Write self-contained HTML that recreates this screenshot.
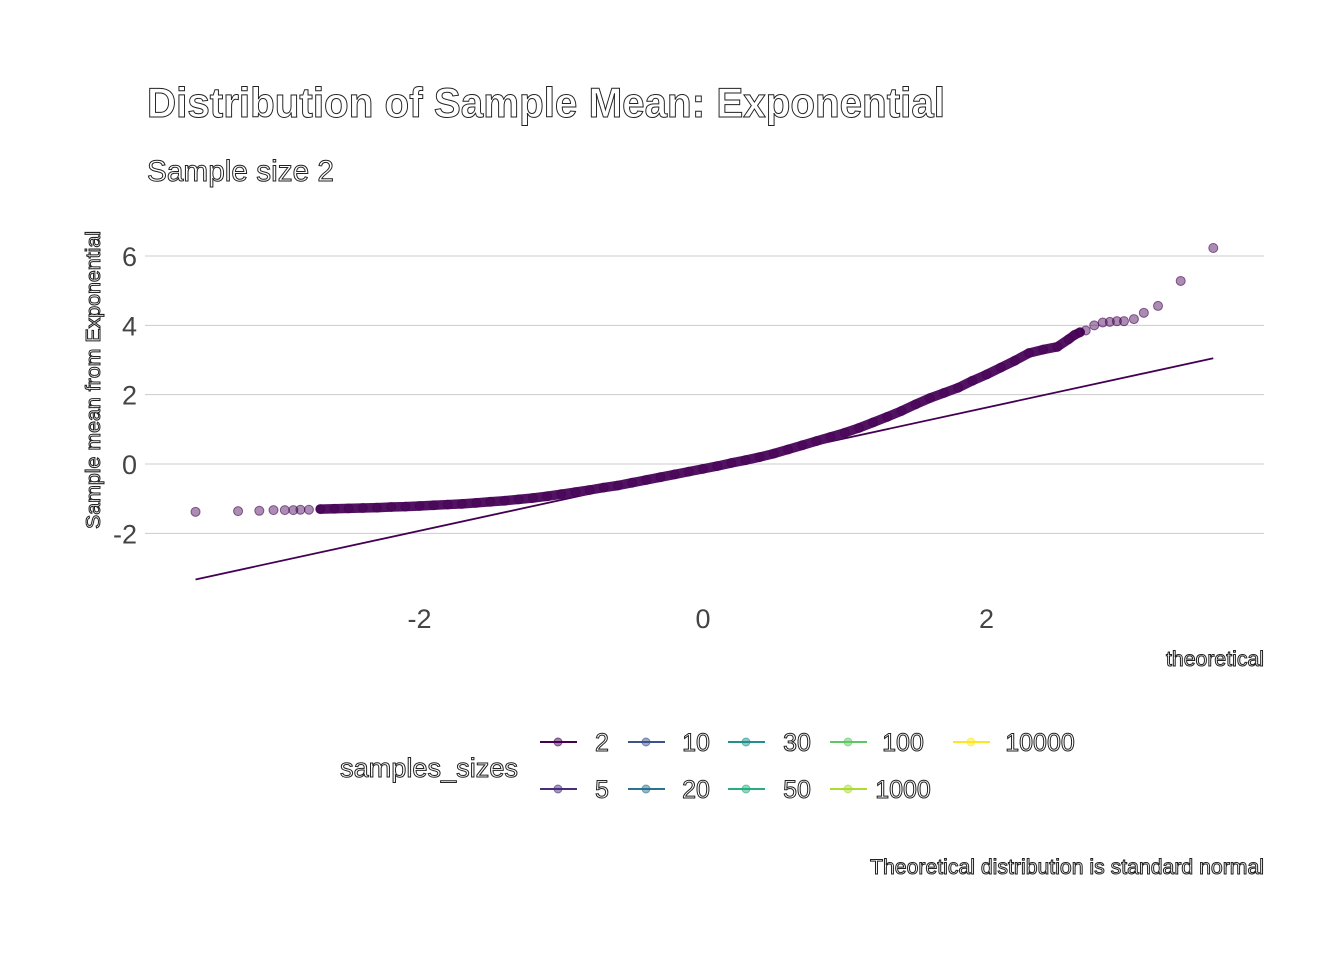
<!DOCTYPE html>
<html><head><meta charset="utf-8"><style>
body{margin:0;background:#fff}
svg{display:block}
.ol{fill:#fff;stroke:#222;stroke-width:1px;font-family:"Liberation Sans Narrow","Liberation Sans",sans-serif}
.tk{fill:#444;font-family:"Liberation Sans Narrow","Liberation Sans",sans-serif;font-size:27px}
</style></head><body>
<svg id="chart" width="1344" height="960">
<text class="ol" x="147" y="117" font-size="42" font-weight="bold" textLength="798" lengthAdjust="spacingAndGlyphs">Distribution of Sample Mean: Exponential</text>
<text class="ol" x="147" y="181" font-size="30" textLength="187" lengthAdjust="spacingAndGlyphs">Sample size 2</text>
<g id="grid"></g>
<g id="ticks"></g>
<g id="marks"></g>
<text class="ol" transform="translate(100,380) rotate(-90)" text-anchor="middle" font-size="20" textLength="298" lengthAdjust="spacingAndGlyphs">Sample mean from Exponential</text>
<text class="ol" x="1264" y="666" text-anchor="end" font-size="21" textLength="98" lengthAdjust="spacingAndGlyphs">theoretical</text>
<text class="ol" x="429" y="777" text-anchor="middle" font-size="27" textLength="178" lengthAdjust="spacingAndGlyphs">samples_sizes</text>
<g id="legend"></g>
<text class="ol" x="1264" y="874" text-anchor="end" font-size="21" textLength="394" lengthAdjust="spacingAndGlyphs">Theoretical distribution is standard normal</text>
</svg>
<script>
const theoretical=[-3.58,-3.28,-3.13,-3.03,-2.95,-2.89,-2.84,-2.78,-2.7,-2.6,-2.5,-2.4,-2.3,-2.2,-2.1,-2.0,-1.9,-1.8,-1.7,-1.6,-1.5,-1.4,-1.3,-1.2,-1.1,-1.0,-0.9,-0.8,-0.7,-0.6,-0.5,-0.4,-0.3,-0.2,-0.1,0,0.1,0.2,0.3,0.4,0.5,0.6,0.7,0.8,0.9,1.0,1.1,1.2,1.3,1.4,1.5,1.6,1.7,1.8,1.9,2.0,2.1,2.2,2.3,2.4,2.5,2.58,2.62,2.66,2.7,2.76,2.82,2.87,2.92,2.97,3.04,3.11,3.21,3.37,3.6];
const sampleMean=[-1.38,-1.36,-1.35,-1.33,-1.33,-1.33,-1.32,-1.32,-1.30,-1.29,-1.28,-1.27,-1.26,-1.24,-1.23,-1.21,-1.19,-1.17,-1.15,-1.12,-1.09,-1.06,-1.02,-0.98,-0.93,-0.87,-0.81,-0.75,-0.68,-0.62,-0.54,-0.46,-0.38,-0.30,-0.22,-0.14,-0.06,0.03,0.11,0.2,0.3,0.42,0.54,0.66,0.78,0.9,1.04,1.2,1.36,1.53,1.72,1.9,2.05,2.2,2.4,2.58,2.78,2.98,3.2,3.3,3.38,3.6,3.72,3.8,3.85,4.0,4.08,4.1,4.12,4.12,4.18,4.36,4.56,5.28,6.23];
const refLineX=[-3.58,3.6];
const refLineY=[-3.33,3.05];
const xTicks=[-2,0,2];
const yTicks=[-2,0,2,4,6];
const legendLabels=["2","5","10","20","30","50","100","1000","10000"];
const legendColors=["#440154","#472D7B","#3B528B","#2C728E","#21908C","#27AD81","#5DC863","#AADC32","#FDE725"];
const NS="http://www.w3.org/2000/svg";
const sx=v=>703+v*141.75, sy=v=>464-v*34.67;
function mk(t,a,p){const e=document.createElementNS(NS,t);for(const k in a)e.setAttribute(k,a[k]);p.appendChild(e);return e;}
const grid=document.getElementById('grid'),ticks=document.getElementById('ticks'),marks=document.getElementById('marks'),leg=document.getElementById('legend');
yTicks.forEach(v=>{
 const l=mk('line',{x1:145,x2:1264,y1:sy(v),y2:sy(v),stroke:'#cccccc','stroke-width':1},grid);
 
 
 const t=mk('text',{x:137,y:sy(v)+10,'text-anchor':'end',class:'tk'},ticks);t.textContent=v;
 
 
});
xTicks.forEach(v=>{
 const t=mk('text',{x:sx(v),y:628,'text-anchor':'middle',class:'tk'},ticks);t.textContent=v;
 
 
});
const rl=mk('line',{x1:sx(refLineX[0]),y1:sy(refLineY[0]),x2:sx(refLineX[1]),y2:sy(refLineY[1]),stroke:'#440154','stroke-width':1.8},marks);


let d='';for(let i=8;i<64;i++)d+=(i==8?'M':'L')+sx(theoretical[i])+','+sy(sampleMean[i]);
const band=mk('path',{d:d,fill:'none',stroke:'#521262','stroke-width':9.5,'stroke-linecap':'round','stroke-linejoin':'round'},marks);


theoretical.forEach((x,i)=>{
 const c=mk('circle',{cx:sx(x),cy:sy(sampleMean[i]),r:4.5,fill:'rgba(68,1,84,0.45)',stroke:'rgba(68,1,84,0.6)','stroke-width':1},marks);
 
 
});
const colX=[540,628,728,830,953],labX=[602,696,797,903,1040],rowY=[742,789];
legendLabels.forEach((lab,i)=>{
 const col=Math.floor(i/2),row=i%2;
 const g=mk('g',{},leg);
 
 
 mk('line',{x1:colX[col],x2:colX[col]+37,y1:rowY[row],y2:rowY[row],stroke:legendColors[i],'stroke-width':2},g);
 mk('circle',{cx:colX[col]+18,cy:rowY[row],r:4,fill:legendColors[i],'fill-opacity':0.5,stroke:legendColors[i],'stroke-opacity':0.6},g);
 const t=mk('text',{x:labX[col],y:rowY[row]+9,'text-anchor':'middle',class:'ol','font-size':25},g);t.textContent=lab;
});
</script>
</body></html>
